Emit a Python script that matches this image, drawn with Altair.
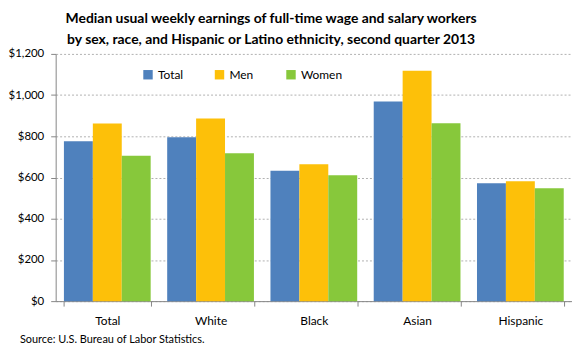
import altair as alt
import pandas as pd

categories = ["Total", "White", "Black", "Asian", "Hispanic"]
series = ["Total", "Men", "Women"]
total_vals = [776, 795, 633, 969, 572]
men_vals = [862, 886, 664, 1118, 582]
women_vals = [706, 718, 611, 863, 548]
colors = ["#4F81BD", "#FDC009", "#87C83B"]
title_lines = ["Median usual weekly earnings of full-time wage and salary workers",
               "by sex, race, and Hispanic or Latino ethnicity, second quarter 2013"]
source_text = "Source: U.S. Bureau of Labor Statistics."

rows = []
for i, c in enumerate(categories):
    for s, vals in zip(series, [total_vals, men_vals, women_vals]):
        rows.append({"category": c, "series": s, "value": vals[i]})
df = pd.DataFrame(rows)

FONT = "Lato"

bars = alt.Chart(df).mark_bar().encode(
    x=alt.X("category:N", sort=categories, title=None,
            scale=alt.Scale(paddingInner=0.16, paddingOuter=0.08),
            axis=alt.Axis(labelAngle=0, tickBand="extent", tickSize=5, labelPadding=10,
                          domainColor="#868686", tickColor="#868686",
                          labelFont=FONT, labelFontSize=12, labelColor="#000000")),
    xOffset=alt.XOffset("series:N", sort=series),
    y=alt.Y("value:Q", title=None,
            scale=alt.Scale(domain=[0, 1200]),
            axis=alt.Axis(values=[0, 200, 400, 600, 800, 1000, 1200], format="$,.0f",
                          tickSize=5, labelPadding=7,
                          domainColor="#868686", tickColor="#868686",
                          gridColor="#B0B0B0", gridDash=[2, 2],
                          labelFont=FONT, labelFontSize=11.5, labelColor="#000000")),
    color=alt.Color("series:N", sort=series,
                    scale=alt.Scale(domain=series, range=colors),
                    legend=alt.Legend(title=None, orient="none", legendX=87, legendY=15,
                                      direction="horizontal", columns=3, gridAlign="all",
                                      symbolType="square", symbolSize=90, symbolStrokeWidth=0,
                                      columnPadding=14, labelFont=FONT, labelFontSize=12,
                                      labelColor="#000000")),
)

src = alt.Chart(pd.DataFrame({"t": [source_text]})).mark_text(
    align="left", baseline="middle", font=FONT, fontSize=11, color="#000000"
).encode(x=alt.value(-36), y=alt.value(288), text="t:N")

chart = alt.layer(bars, src).properties(
    width=520, height=249,
    autosize=alt.AutoSizeParams(type="none"),
    padding={"left": 48, "top": 45, "right": 0, "bottom": 50},
    title=alt.TitleParams(text=title_lines, anchor="middle", dx=-43, offset=1,
                          font=FONT, fontSize=14, fontWeight="bold", color="#000000",
                          lineHeight=21),
).configure_view(stroke=None)

chart.save("out.html", embed_options={"renderer": "svg", "actions": False})
